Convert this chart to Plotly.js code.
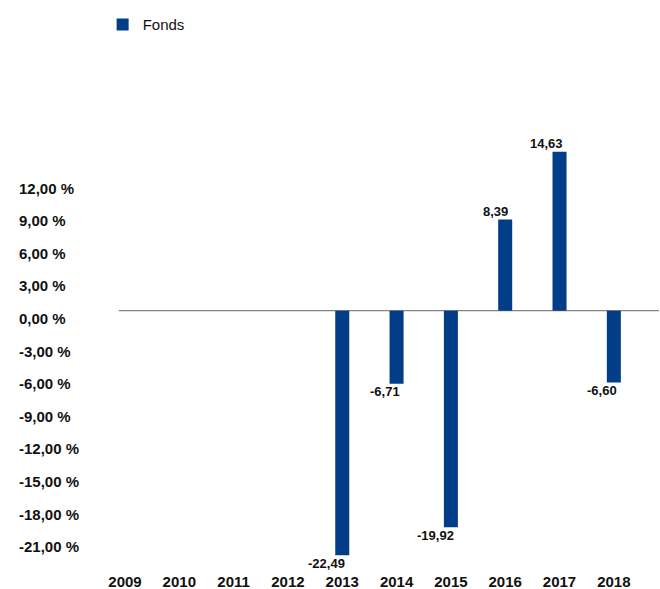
<!DOCTYPE html>
<html>
<head>
<meta charset="utf-8">
<script src="https://cdn.plot.ly/plotly-3.0.1.min.js"></script>
<style>body{margin:0;padding:0;background:#fff}#chart{width:660px;height:589px}</style>
</head>
<body>
<div id="chart"></div>
<script>
const years = [2009, 2010, 2011, 2012, 2013, 2014, 2015, 2016, 2017, 2018];
const yearLabels = ["2009", "2010", "2011", "2012", "2013", "2014", "2015", "2016", "2017", "2018"];
const fondsValues = [null, null, null, null, -22.49, -6.71, -19.92, 8.39, 14.63, -6.60];
const barLabels = ["", "", "", "", "-22,49", "-6,71", "-19,92", "8,39", "14,63", "-6,60"];
const yTickVals = [12, 9, 6, 3, 0, -3, -6, -9, -12, -15, -18, -21];
const yTickText = ["12,00 %", "9,00 %", "6,00 %", "3,00 %", "0,00 %", "-3,00 %", "-6,00 %", "-9,00 %", "-12,00 %", "-15,00 %", "-18,00 %", "-21,00 %"];
const seriesName = "Fonds";

const FONT = "Liberation Sans, Arial, sans-serif";
const BLUE = "#023e87";

const annotations = [];
for (let i = 0; i < years.length; i++) {
  const v = fondsValues[i];
  if (v === null) continue;
  annotations.push({
    x: years[i], y: v, xref: "x", yref: "y",
    text: barLabels[i], showarrow: false,
    xanchor: "right", xshift: 5,
    yanchor: v >= 0 ? "bottom" : "top",
    yshift: v >= 0 ? -1.5 : 1.5,
    font: {family: FONT, size: 13, color: "#111", weight: "bold"}
  });
}

const trace = {
  type: "bar",
  name: seriesName,
  x: years,
  y: fondsValues,
  marker: {color: BLUE},
  hoverinfo: "none"
};

const layout = {
  width: 660, height: 589,
  margin: {l: 0, r: 19, t: 137, b: 31, pad: 0},
  paper_bgcolor: "#fff", plot_bgcolor: "#fff",
  font: {family: FONT, size: 15, color: "#111"},
  bargap: 0.742,
  showlegend: true,
  legend: {
    orientation: "h",
    xref: "container", yref: "container",
    x: 0.1555, y: 0.986, xanchor: "left", yanchor: "top",
    font: {family: FONT, size: 15, color: "#111"},
    bgcolor: "rgba(0,0,0,0)"
  },
  xaxis: {
    type: "linear",
    domain: [0.1526, 1],
    range: [2008.5, 2018.5],
    tickmode: "array", tickvals: years, ticktext: yearLabels,
    showgrid: false, zeroline: false, showline: false, ticks: "",
    tickfont: {family: FONT, size: 15, color: "#111", weight: "bold"},
    ticklabelstandoff: 13
  },
  yaxis: {
    range: [-22.75, 15.98],
    anchor: "free", position: 0, side: "left",
    ticklabelposition: "inside",
    tickmode: "array", tickvals: yTickVals, ticktext: yTickText,
    showgrid: false, zeroline: false, showline: false, ticks: "",
    tickfont: {family: FONT, size: 15, color: "#111", weight: "bold"},
    ticklabelshift: 8,
    ticklabelstandoff: 15
  },
  shapes: [{
    type: "line", xref: "paper", yref: "y",
    x0: 0.1852, x1: 1.028, y0: 0, y1: 0,
    line: {color: "#858585", width: 1.3},
    layer: "below"
  }],
  annotations: annotations
};

Plotly.newPlot("chart", [trace], layout, {displayModeBar: false, staticPlot: true});
</script>
</body>
</html>
